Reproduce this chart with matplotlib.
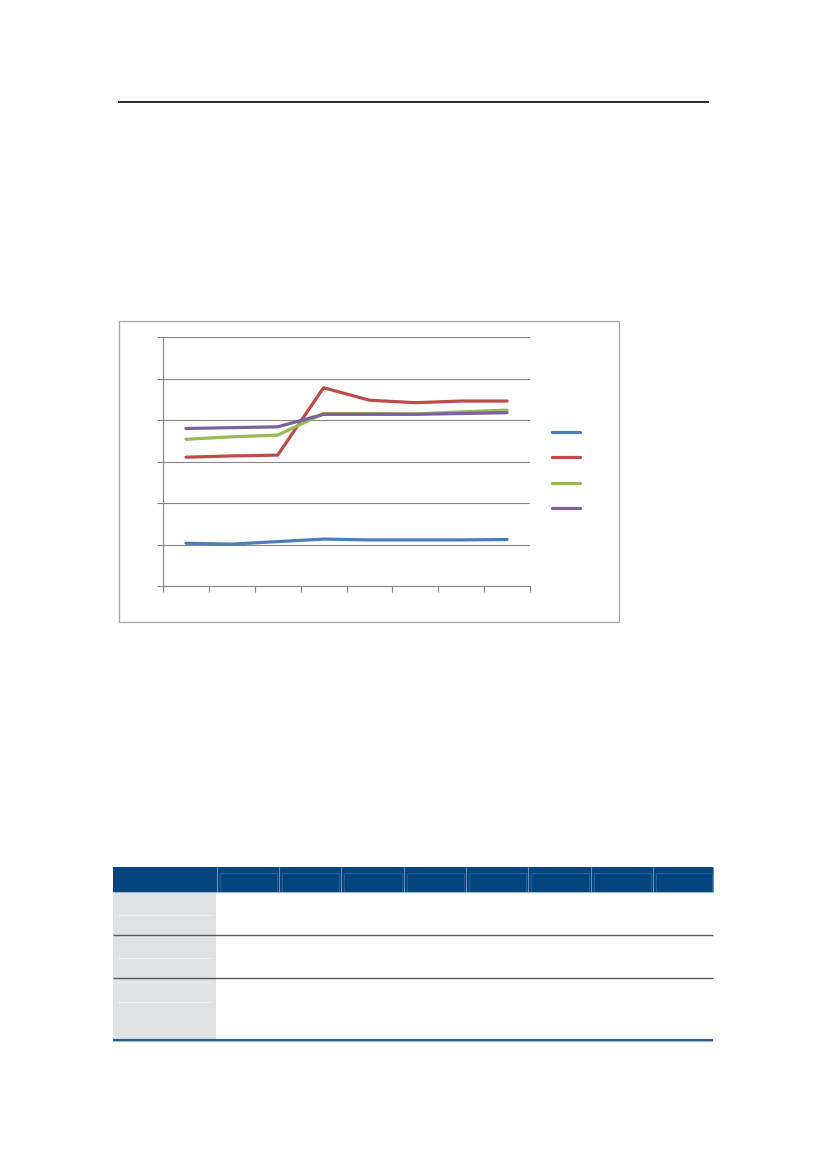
import matplotlib
matplotlib.use("Agg")
import matplotlib.pyplot as plt
from matplotlib.patches import Rectangle
from matplotlib.lines import Line2D

# ---------------- data ----------------
categories = [1, 2, 3, 4, 5, 6, 7, 8]
series_blue = [1.04, 1.02, 1.08, 1.14, 1.12, 1.12, 1.12, 1.13]
series_red = [3.11, 3.14, 3.16, 4.78, 4.48, 4.42, 4.46, 4.46]
series_green = [3.54, 3.60, 3.64, 4.16, 4.16, 4.15, 4.20, 4.24]
series_purple = [3.80, 3.82, 3.84, 4.14, 4.14, 4.14, 4.16, 4.18]
y_ticks = [0, 1, 2, 3, 4, 5, 6]
legend_labels = [" ", " ", " ", " "]

colors = ["#4a7ebb", "#be4b48", "#98b954", "#7d60a0"]

W, H = 827, 1169
fig = plt.figure(figsize=(W / 100, H / 100), dpi=100)

# page decoration overlay in pixel coordinates
deco = fig.add_axes([0, 0, 1, 1], zorder=0)
deco.set_xlim(0, W)
deco.set_ylim(H, 0)
deco.axis("off")

def hline(y, x0, x1, color, lw):
    deco.plot([x0, x1], [y, y], color=color, lw=lw, solid_capstyle="butt")

def vline(x, y0, y1, color, lw):
    deco.plot([x, x], [y0, y1], color=color, lw=lw, solid_capstyle="butt")

# top rule
hline(101.5, 118, 709, "#1a1a1a", 1.3)

# chart frame
deco.add_patch(Rectangle((118.5, 320.5), 500, 301, fill=False,
                         edgecolor="#a6a6a6", lw=0.9))

# table
col_edges = [113, 216, 278, 340, 403, 465, 527, 590, 652, 713]
head_top, head_bot = 866.5, 891.5
deco.add_patch(Rectangle((113, head_top), 600, head_bot - head_top,
                         facecolor="#03457f", edgecolor="none"))
for i in range(1, len(col_edges) - 1):
    x0, x1 = col_edges[i], col_edges[i + 1]
    vline(x0 + 0.5, head_top, head_bot, "#6a8fb5", 0.8)
    deco.add_patch(Rectangle((x0 + 3.5, 873), x1 - x0 - 5, head_bot - 873,
                             fill=False, edgecolor="#2f5f91", lw=0.6))
vline(713, head_top, head_bot, "#6a8fb5", 0.8)
hline(892, 113, 713, "#9db8d3", 0.8)

deco.add_patch(Rectangle((113, 892.5), 103, 146, facecolor="#dfe1e2",
                         edgecolor="none"))
for yy in [915, 958, 982, 1002]:
    hline(yy, 117, 212, "#eceeef", 0.8)
for yy in [934.5, 977.5]:
    hline(yy, 113, 713, "#5a5a5a", 1.0)
hline(1039.5, 113, 713, "#2e5b8c", 1.6)
hline(1041.3, 113, 713, "#8aa6c4", 0.6)

# chart axes
L, R, T, B = 163, 530, 337, 586.5
ax = fig.add_axes([L / W, 1 - B / H, (R - L) / W, (B - T) / H], zorder=2)
ax.patch.set_alpha(0)
for vals, c in zip([series_blue, series_red, series_green, series_purple], colors):
    ax.plot(categories, vals, color=c, lw=2.3, solid_capstyle="round")
ax.set_xlim(0.5, 8.5)
ax.set_ylim(0, 6)
ax.set_yticks(y_ticks)
ax.set_xticks([c - 0.5 for c in categories] + [categories[-1] + 0.5])
ax.set_xticklabels([])
ax.set_yticklabels([])
ax.grid(axis="y", color="#868686", lw=0.8)
ax.set_axisbelow(True)
for s in ["top", "right"]:
    ax.spines[s].set_visible(False)
for s in ["left", "bottom"]:
    ax.spines[s].set_color("#868686")
    ax.spines[s].set_linewidth(0.8)
ax.tick_params(axis="both", direction="out", length=4, width=0.8,
               color="#868686")

handles = [Line2D([], [], color=c, lw=2.3, solid_capstyle="round") for c in colors]
fig.legend(handles, legend_labels, loc="center left",
           bbox_to_anchor=(552 / W, 1 - 471 / H), frameon=False,
           fontsize=10, handlelength=2.0, labelspacing=0.83,
           borderpad=0, borderaxespad=0, handletextpad=0.3)

fig.savefig("out.png", dpi=100)
